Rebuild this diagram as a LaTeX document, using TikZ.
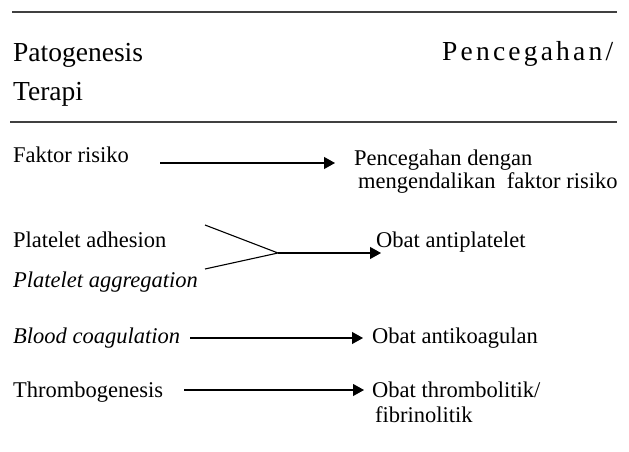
\documentclass[tikz,border=0pt]{standalone}
\usepackage{fontspec}
\setmainfont{Liberation Serif}
\usetikzlibrary{arrows.meta}
\newcommand{\lsp}{\kern3.2pt}
\begin{document}
\begin{tikzpicture}[x=1pt,y=-1pt,
  hdr/.style={anchor=base west,inner sep=0pt,font=\fontsize{27.5}{33}\selectfont},
  txt/.style={anchor=base west,inner sep=0pt,font=\fontsize{22.5}{27}\selectfont},
  rule/.style={line width=1.3pt,draw=black!75},
  conn/.style={line width=1.1pt},
  arr/.style={conn,-{Triangle[length=11pt,width=12pt]}}]
\useasboundingbox (0,0) rectangle (629,452);
% rules
\coordinate (r1a) at (12,12);
\coordinate (r1b) at (617,12);
\coordinate (r2a) at (10,122);
\coordinate (r2b) at (617,122);
\draw[rule] (r1a) -- (r1b);
\draw[rule] (r2a) -- (r2b);
% header
\node[hdr] (pat) at (13,62) {Patogenesis};
\node[hdr] (ter) at (13,100) {Terapi};
\node[hdr] (pen) at (442,61) {P\lsp e\lsp n\lsp c\lsp e\lsp g\lsp a\lsp h\lsp a\lsp n\lsp /};
% rows
\node[txt] (fak) at (13,162) {Faktor risiko};
\node[txt] (pd1) at (354,165) {Pencegahan dengan};
\node[txt] (pd2) at (358,188) {mengendalikan\ \ faktor risiko};
\coordinate (a1s) at (160,163);
\coordinate (a1e) at (335,163);
\draw[arr] (a1s) -- (a1e);

\node[txt] (pad) at (13,247) {Platelet adhesion};
\node[txt] (pag) at (13,287) {\itshape Platelet aggregation};
\node[txt] (oap) at (376,247) {Obat antiplatelet};
\coordinate (f1) at (205,225);
\coordinate (f2) at (205,269);
\coordinate (fj) at (278,253);
\coordinate (a2e) at (381,253);
\draw[conn] (f1) -- (fj) -- (f2);
\draw[arr] (fj) -- (a2e);

\node[txt] (blc) at (13,343) {\itshape Blood coagulation};
\node[txt] (oak) at (372,343) {Obat antikoagulan};
\coordinate (a3s) at (190,338);
\coordinate (a3e) at (363,338);
\draw[arr] (a3s) -- (a3e);

\node[txt] (thr) at (13,397) {Thrombogenesis};
\node[txt] (ot1) at (372,397) {Obat thrombolitik/};
\node[txt] (ot2) at (375,422) {fibrinolitik};
\coordinate (a4s) at (184,390);
\coordinate (a4e) at (364,390);
\draw[arr] (a4s) -- (a4e);
\end{tikzpicture}
\end{document}
